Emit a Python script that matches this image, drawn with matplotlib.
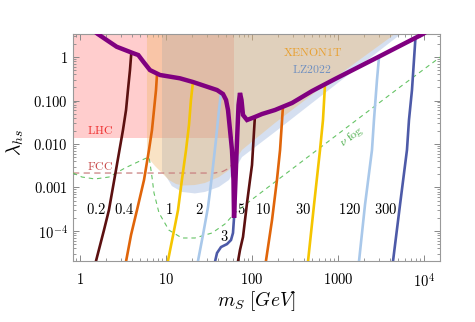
import numpy as np
import matplotlib
matplotlib.use("Agg")
from matplotlib import pyplot as plt

plt.rcParams["mathtext.fontset"] = "cm"
plt.rcParams["font.family"] = ["DejaVu Serif"]

# axis ranges
m_lim = [0.829, 15350]
lam_lim = [2.04e-5, 3.38]

x_tick_values = [1, 10, 100, 1000, 1e4]
x_tick_labels = ["$1$", "$10$", "$100$", "$1000$", "$10^4$"]
y_tick_values = [1, 0.1, 0.01, 0.001, 1e-4]
y_tick_labels = ["$1$", "$0.100$", "$0.010$", "$0.001$", "$10^{-4}$"]

# LHC invisible width bound (box)
lhc_m_max = 62.5
lhc_lam_min = 0.0137

# FCC projection
fcc_m = [0.829, 37, 46, 53.6, 58]
fcc_lam = [2.15e-3, 2.15e-3, 2.35e-3, 2.76e-3, 3.3e-3]

# direct detection exclusions (lower edges, region extends to top)
xenon_m = [6.01, 6.01, 6.51, 7.45, 8.98, 10.8, 13.1, 15.8, 21.7, 28.4, 41.3, 54.0, 76.5, 185, 706, 4600, 9800]
xenon_lam = [10, 5.58e-3, 4.29e-3, 3.12e-3, 2.15e-3, 1.49e-3, 1.20e-3, 1.11e-3, 1.14e-3, 1.27e-3,
             1.74e-3, 2.52e-3, 7.3e-3, 0.0304, 0.227, 3.38, 10]
lz_m = [8.98, 8.98, 10.3, 11.7, 15.3, 21.7, 28.4, 41.3, 54.0, 76.5, 185, 706, 5400, 10900]
lz_lam = [10, 2.39e-3, 1.65e-3, 1.08e-3, 7.9e-4, 7.3e-4, 7.9e-4, 1.03e-3, 1.49e-3, 5.0e-3,
          0.0189, 0.149, 3.38, 10]

# neutrino fog
nufog_m = [0.829, 1.055, 1.49, 2.17, 3.34, 5.26, 6.34, 6.51, 6.87, 7.25, 8.29, 10.8, 15.3, 21.7,
           34.3, 48.5, 63.4, 94.8, 185, 361, 1380, 5260, 15500]
nufog_lam = [2.15e-3, 1.74e-3, 1.57e-3, 1.74e-3, 2.81e-3, 4.29e-3, 5.03e-3, 3.66e-3, 1.74e-3, 7.5e-4,
             2.6e-4, 1.05e-4, 6.9e-5, 6.9e-5, 9.0e-5, 1.45e-4, 2.6e-4, 4.9e-4, 1.34e-3, 3.66e-3,
             0.0274, 0.204, 1.0]

# relic abundance curve
relic_m = [1.40, 1.61, 2.04, 2.67, 3.49, 4.17, 4.76, 5.45, 6.51, 8.51, 14.5, 20.6, 39.2, 46.0, 49.9,
           52.6, 55.5, 58.5, 60.9, 61.8, 64.3, 67.0, 69.7, 72.5, 75.5, 78.6, 87.5, 108, 131, 185,
           292, 499, 923, 3080, 9730, 11000]
relic_lam = [4.2, 3.38, 2.46, 1.72, 1.40, 1.22, 1.11, 0.78, 0.50, 0.386, 0.324, 0.266, 0.174, 0.141,
             0.103, 0.0605, 0.021, 7.3e-3, 1.49e-3, 2.0e-4, 1.49e-3, 0.0124, 0.0788, 0.149, 0.103,
             0.0465, 0.0356, 0.0418, 0.049, 0.0605, 0.0877, 0.165, 0.312, 1.05, 3.38, 4.0]

# constant-parameter curves
c02_m = [1.53, 1.90, 2.17, 2.62, 3.16, 3.43, 3.61, 3.81, 3.95]
c02_lam = [2.0e-5, 1.05e-4, 3.04e-4, 2.52e-3, 0.021, 0.0605, 0.174, 0.50, 1.25]
c04_m = [3.43, 3.92, 4.60, 5.55, 6.34, 6.87, 7.25, 7.65, 7.86]
c04_lam = [2.0e-5, 8.1e-5, 3.04e-4, 1.49e-3, 7.3e-3, 0.021, 0.0605, 0.174, 0.40]
c1_m = [10.5, 12.1, 13.8, 15.3, 17.1, 18.5, 19.5, 20.6]
c1_lam = [2.0e-5, 8.1e-5, 3.04e-4, 1.49e-3, 7.3e-3, 0.0274, 0.103, 0.27]
c2_m = [23.5, 26.9, 30.8, 34.3, 38.1, 41.3, 43.6]
c2_lam = [2.0e-5, 8.1e-5, 3.56e-4, 1.94e-3, 0.0124, 0.0605, 0.152]
c3_m = [37.2, 39.2, 43.6, 51.2, 57.0, 60.1, 61.8]
c3_lam = [2.0e-5, 3.12e-5, 4.27e-5, 5.0e-5, 6.2e-5, 9.0e-5, 2.0e-4]
c5_m = [68.7, 72.5, 78.6, 87.5, 94.8, 100, 108]
c5_lam = [2.0e-5, 3.66e-5, 7.3e-5, 4.4e-4, 1.49e-3, 3.29e-3, 0.0418]
c10_m = [145, 171, 195, 212, 229]
c10_lam = [2.0e-5, 1.79e-4, 1.49e-3, 7.3e-3, 0.072]
c30_m = [448, 526, 618, 669, 706]
c30_lam = [2.0e-5, 3.97e-4, 7.3e-3, 0.0356, 0.23]
c120_m = [1755, 2060, 2485, 2620, 2840, 3000]
c120_lam = [2.0e-5, 3.97e-4, 7.3e-3, 0.0356, 0.296, 1.0]
c300_m = [4360, 5260, 6340, 6690, 7250, 7950]
c300_lam = [2.0e-5, 3.97e-4, 7.3e-3, 0.0356, 0.174, 2.7]

curve_labels = ["0.2", "0.4", "1", "2", "3", "5", "10", "30", "120", "300"]
label_m = [1.53, 3.25, 10.8, 24.2, 48.0, 74.5, 134, 392, 1380, 3610]
label_lam = [3.2e-4, 3.2e-4, 3.2e-4, 3.2e-4, 7.4e-5, 3.2e-4, 3.2e-4, 3.2e-4, 3.2e-4, 3.2e-4]

maroon = "#5c1010"
orange = "#e0650a"
gold = "#f5c500"
lightblue = "#a9c8ea"
indigo = "#4d5aa8"

fig = plt.figure(figsize=(4.75, 3.22), dpi=100)
ax = fig.add_axes([0.1537, 0.1894, 0.7726, 0.705])
ax.set_xscale("log")
ax.set_yscale("log")
ax.set_xlim(m_lim)
ax.set_ylim(lam_lim)

# LHC box under the direct detection layers
ax.fill([m_lim[0], lhc_m_max, lhc_m_max, m_lim[0]], [lhc_lam_min, lhc_lam_min, 10, 10],
        color="#ffcdcd", lw=0, zorder=1)
ax.fill(lz_m, lz_lam, color="#7698d0", alpha=0.3, lw=0, zorder=1.5)
ax.fill(xenon_m, xenon_lam, color="#f2bb70", alpha=0.4, lw=0, zorder=2)

ax.plot(fcc_m, fcc_lam, color="#c98080", lw=0.9, dashes=(5, 3.5), zorder=3)
ax.plot(nufog_m, nufog_lam, color="#66c466", lw=0.8, dashes=(4, 3.5), zorder=3)

curves = [
    (c02_m, c02_lam, maroon), (c04_m, c04_lam, orange), (c1_m, c1_lam, gold),
    (c2_m, c2_lam, lightblue), (c3_m, c3_lam, indigo), (c5_m, c5_lam, maroon),
    (c10_m, c10_lam, orange), (c30_m, c30_lam, gold), (c120_m, c120_lam, lightblue),
    (c300_m, c300_lam, indigo),
]
for cm_, cl_, col in curves:
    ax.plot(cm_, cl_, color=col, lw=1.9, zorder=4, solid_capstyle="butt")

ax.plot(relic_m, relic_lam, color="#800080", lw=3.2, zorder=5, solid_joinstyle="miter")

for txt, lm, ll in zip(curve_labels, label_m, label_lam):
    ax.text(lm, ll, "$" + txt + "$", fontsize=10.5, ha="center", va="center", zorder=6)

ax.text(1.71, 0.0199, r"$\mathrm{LHC}$", color="#ee3030", fontsize=8.5, ha="center", va="center", zorder=6)
ax.text(1.71, 2.96e-3, r"$\mathrm{FCC}$", color="#c84a4a", fontsize=8.5, ha="center", va="center", zorder=6)
ax.text(505, 1.27, r"$\mathrm{XENON1T}$", color="#e8a030", fontsize=8.5, ha="center", va="center", zorder=6)
ax.text(499, 0.53, r"$\mathrm{LZ2022}$", color="#7090c0", fontsize=8.5, ha="center", va="center", zorder=6)
ax.text(1455, 0.0145, r"$\nu\ \mathrm{fog}$", color="#44aa44", fontsize=8.5, ha="center", va="center",
        rotation=36, zorder=6)

ax.set_xticks(x_tick_values, x_tick_labels)
ax.set_yticks(y_tick_values, y_tick_labels)
ax.tick_params(which="both", direction="in", top=True, right=True, color="#888888",
               labelsize=10.5)
ax.tick_params(which="major", length=4, width=0.7)
ax.tick_params(which="minor", length=2, width=0.6)
ax.tick_params(axis="x", which="major", pad=8)
ax.tick_params(axis="y", which="major", pad=3.5)
for sp in ax.spines.values():
    sp.set_color("#999999")
    sp.set_linewidth(0.8)

ax.set_xlabel(r"$m_S\ [GeV]$", fontsize=14)
ax.set_ylabel(r"$\lambda_{hs}$", fontsize=14)
ax.xaxis.set_label_coords(0.5, -0.125)
ax.yaxis.set_label_coords(-0.128, 0.52)

fig.savefig("out.png", dpi=100)
